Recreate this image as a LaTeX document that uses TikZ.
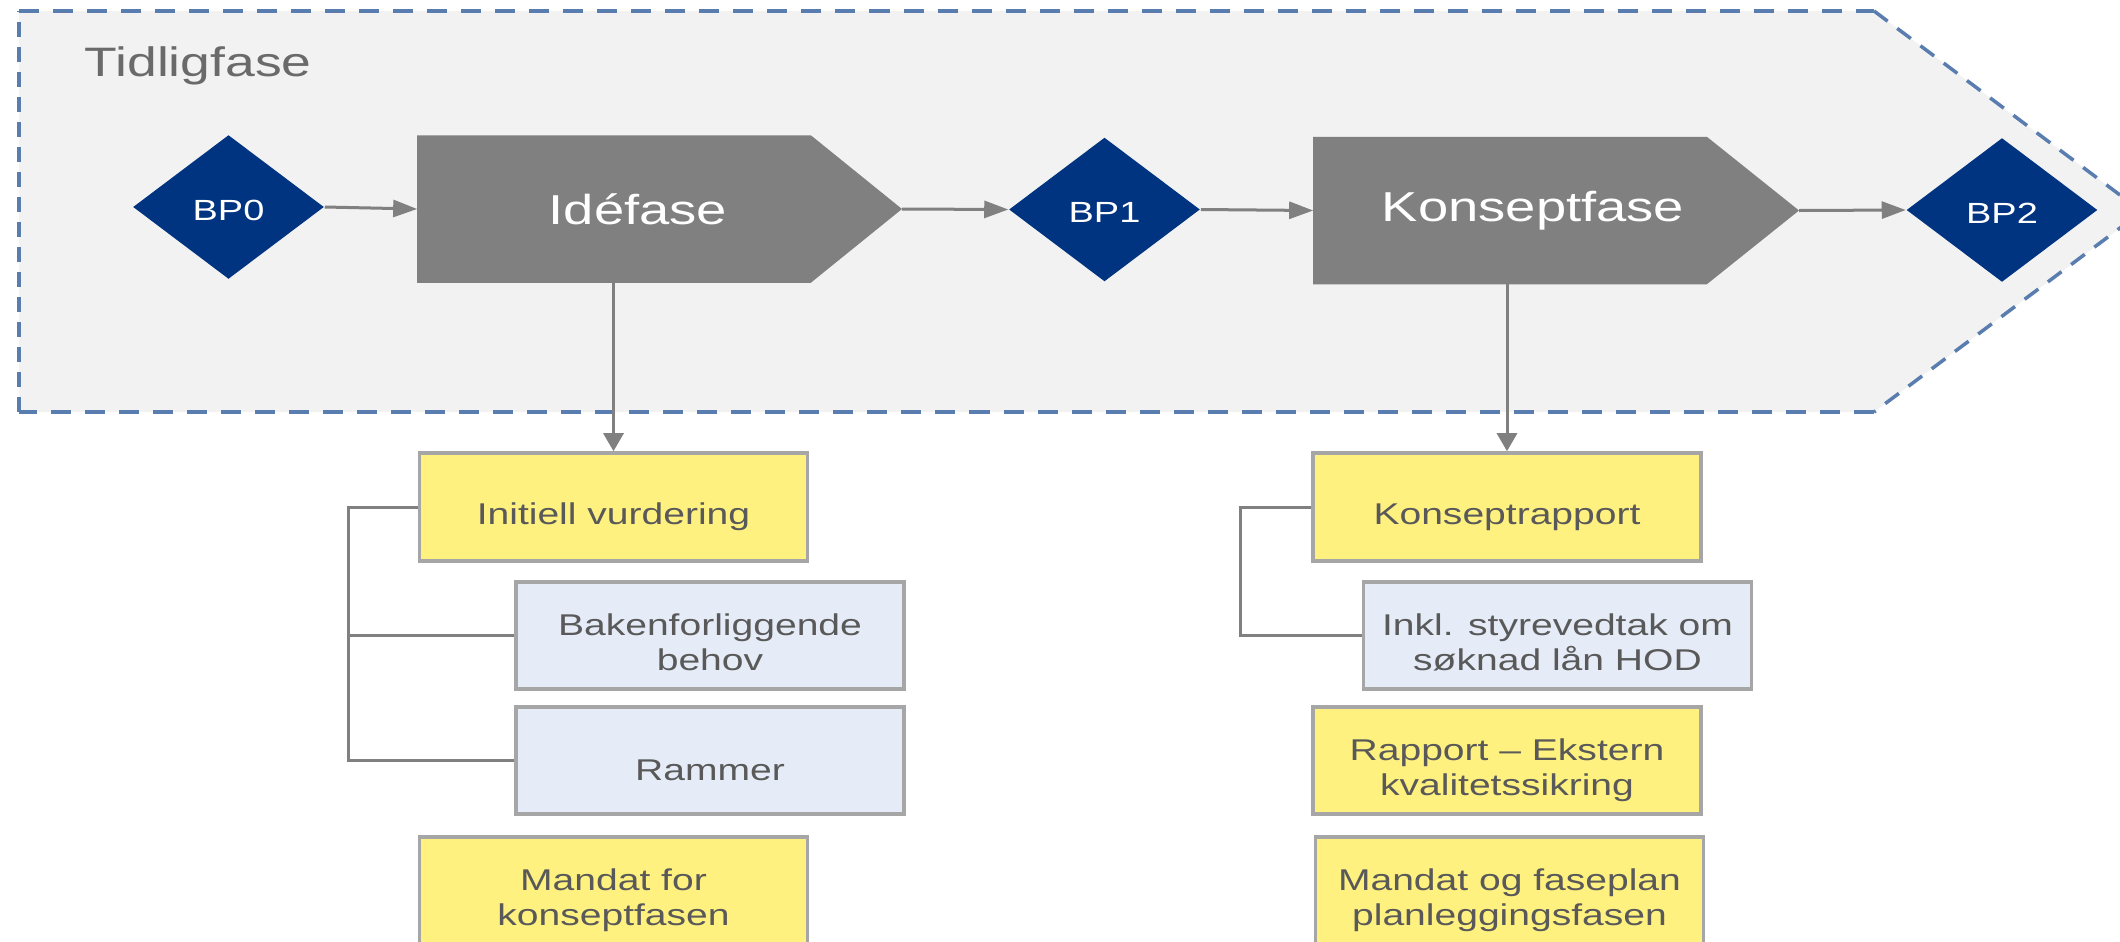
\documentclass[tikz,border=0pt]{standalone}
\usepackage{graphicx}
\usepackage{fontspec}
\setmainfont{Liberation Sans}
\usetikzlibrary{shapes.geometric,arrows.meta}
\definecolor{outerfill}{HTML}{F2F2F2}
\definecolor{dashblue}{HTML}{5A7DB0}
\definecolor{bpblue}{HTML}{003380}
\definecolor{phasegray}{HTML}{808080}
\definecolor{boxborder}{HTML}{A6A6A6}
\definecolor{boxyellow}{HTML}{FFF17F}
\definecolor{boxblue}{HTML}{E5ECF7}
\definecolor{txtgray}{HTML}{595959}
\newcommand{\sx}[1]{\scalebox{1.3}[1]{#1}}
\newcommand{\dn}[1]{\raisebox{-0.1cm}[\height][\depth]{#1}}
\newcommand{\onel}[1]{\dn{\sx{#1}}}
\newcommand{\twol}[2]{\dn{\sx{\begin{tabular}{@{}c@{}}#1\\#2\end{tabular}}}}
\begin{document}
\begin{tikzpicture}[x=0.01cm,y=-0.01cm,
  bpnode/.style={diamond,fill=bpblue,text=white,inner sep=0pt,
    minimum width=1.91cm,minimum height=1.44cm,font=\fontsize{8.3pt}{10pt}\selectfont},
  phasebox/.style={rectangle,inner sep=0pt,
    minimum width=3.92cm,minimum height=1.46cm},
  phasetext/.style={text=white,inner sep=0pt,font=\fontsize{11.9pt}{14pt}\selectfont},
  itembox/.style={rectangle,draw=boxborder,line width=0.035cm,inner sep=0pt,
    minimum width=3.88cm,minimum height=1.07cm,text=txtgray,
    font=\fontsize{8.54pt}{9.96pt}\selectfont},
  ybox/.style={itembox,fill=boxyellow},
  bbox/.style={itembox,fill=boxblue},
  flow/.style={draw=phasegray,line width=0.03cm,-{Triangle[length=0.24cm,width=0.17cm]}},
  vflow/.style={draw=phasegray,line width=0.03cm,-{Triangle[length=0.18cm,width=0.2cm]}},
  bracket/.style={draw=phasegray,line width=0.03cm},
  frame/.style={dashblue,line width=0.035cm,line cap=butt}
]
\useasboundingbox (0,0) rectangle (2120,942);
\fill[white] (0,0) rectangle (2120,942);
\clip (0,0) rectangle (2120,942);

% outer dashed frame
\coordinate (fTL) at (19,11);
\coordinate (fTR) at (1874,11);
\coordinate (fTip) at (2142,211.5);
\coordinate (fBR) at (1874,412);
\coordinate (fBL) at (19,412);
\fill[outerfill] (fTL) -- (fTR) -- (fTip) -- (fBR) -- (fBL) -- cycle;
\draw[frame,dash pattern=on 0.2cm off 0.14cm] (fBR) -- (fBL);
\draw[frame,dash pattern=on 0.2cm off 0.14cm] (fTL) -- (fTR);
\draw[frame,dash pattern=on 0.15cm off 0.1cm] (fBL) -- (fTL);
\draw[frame,dash pattern=on 0.17cm off 0.12cm] (fTR) -- (fTip) -- (fBR);
\node[anchor=base west,inner sep=0pt,text=txtgray!90,font=\fontsize{11.7pt}{14pt}\selectfont]
  (tidlig) at (84,76) {\sx{Tidligfase}};

% milestones
\node[bpnode] (bp0) at (228.5,207) {\raisebox{-0.03cm}[\height][\depth]{\sx{BP0}}};
\node[bpnode] (bp1) at (1104.5,209.5) {\raisebox{-0.03cm}[\height][\depth]{\sx{BP1}}};
\node[bpnode] (bp2) at (2002,210) {\raisebox{-0.03cm}[\height][\depth]{\sx{BP2}}};

% phases
\node[phasebox] (ide) at (614,209) {};
\coordinate (ideTip) at (902,209);
\fill[phasegray] (ide.north west) -- (ide.north east) -- (ideTip) -- (ide.south east) -- (ide.south west) -- cycle;
\node[phasetext] (ideT) at (638,209) {\sx{Idéfase}};

\node[phasebox] (kf) at (1510,210.5) {};
\coordinate (kfTip) at (1799,210.5);
\fill[phasegray] (kf.north west) -- (kf.north east) -- (kfTip) -- (kf.south east) -- (kf.south west) -- cycle;
\node[phasetext] (kfT) at (1533,210.5) {\sx{Konseptfase}};

% flow arrows
\draw[flow] (bp0.east) -- (ide.west);
\draw[flow] (ideTip) -- (bp1.west);
\draw[flow] (bp1.east) -- (kf.west);
\draw[flow] (kfTip) -- (bp2.west);

% left column
\node[ybox,minimum height=1.08cm] (iv) at (613.5,507) {\onel{Initiell vurdering}};
\node[bbox] (bb) at (710,635.5) {\twol{Bakenforliggende}{behov}};
\node[bbox] (ra) at (710,760.5) {\onel{Rammer}};
\node[ybox,minimum height=1.08cm] (mk) at (613.5,891) {\twol{Mandat for}{konseptfasen}};

% right column
\node[ybox,minimum height=1.08cm] (kr) at (1507,507) {\onel{Konseptrapport}};
\node[bbox] (is) at (1557.5,635.5) {\twol{Inkl. styrevedtak om}{søknad lån HOD}};
\node[ybox] (re) at (1507,760.5) {\twol{Rapport -- Ekstern}{kvalitetssikring}};
\node[ybox,minimum height=1.08cm] (mf) at (1509.5,891) {\twol{Mandat og faseplan}{planleggingsfasen}};

% down arrows
\draw[vflow] (ide.south) -- (ide.south -| iv.north) -- (iv.north);
\draw[vflow] (kr.north |- kf.south) -- (kr.north);

% brackets
\coordinate (lb) at (348,0);
\coordinate (rb) at (1240,0);
\draw[bracket] (iv.west) -- (iv.west -| lb) -- (ra.west -| lb) -- (ra.west);
\draw[bracket] (bb.west -| lb) -- (bb.west);
\draw[bracket] (kr.west) -- (kr.west -| rb) -- (is.west -| rb) -- (is.west);
\end{tikzpicture}
\end{document}
